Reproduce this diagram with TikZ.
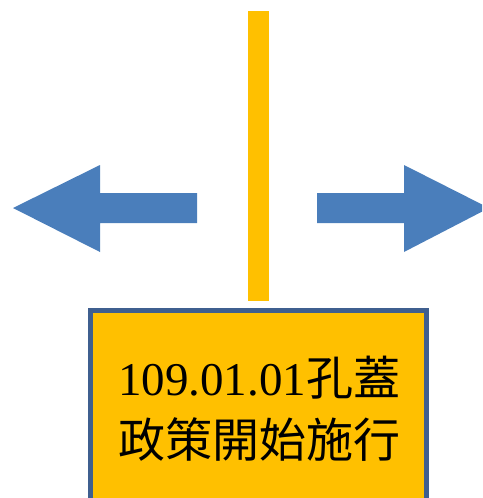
\documentclass[tikz,border=0pt]{standalone}
\usepackage{fontspec}
\setmainfont{Liberation Serif}
\newfontfamily\cjk{Noto Sans CJK TC}
\definecolor{arrowblue}{HTML}{4A7EBB}
\definecolor{barorange}{HTML}{FFC000}
\definecolor{boxedge}{HTML}{3F5F8F}
\tikzset{
  bigarrow/.style={fill=arrowblue, draw=none},
  barstyle/.style={fill=barorange, draw=none},
  boxstyle/.style={fill=barorange, draw=boxedge, line width=5pt},
  labeltext/.style={font=\fontsize{47}{62}\selectfont, align=center, inner sep=0pt}
}
\begin{document}
\begin{tikzpicture}[x=1pt,y=-1pt]
\useasboundingbox (0,0) rectangle (482,498);
\clip (0,0) rectangle (482,498);
% vertical bar
\fill[barstyle] (248,11) rectangle (269,301);
% left arrow
\fill[bigarrow] (13,208) -- (100,165) -- (100,193) -- (197,193) -- (197,223) -- (100,223) -- (100,252) -- cycle;
% right arrow
\fill[bigarrow] (489,208) -- (404,165) -- (404,193) -- (317,193) -- (317,223) -- (404,223) -- (404,252) -- cycle;
% box
\draw[boxstyle] (90.5,310.5) rectangle (426.5,515);
\node[labeltext] (label) at (259,409) {109.01.01{\cjk 孔蓋}\\{\cjk 政策開始施行}};
\end{tikzpicture}
\end{document}
